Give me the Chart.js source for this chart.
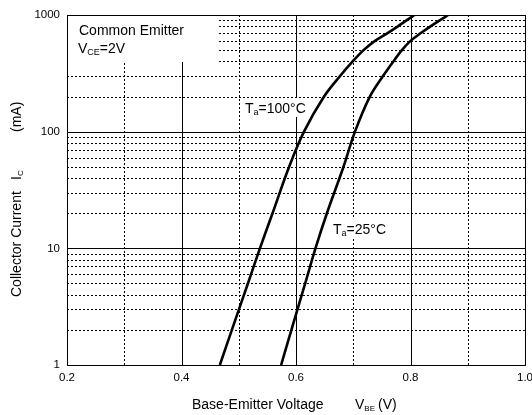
<!DOCTYPE html>
<html>
<head>
<meta charset="utf-8">
<script src="https://cdn.jsdelivr.net/npm/chart.js@4"></script>
<style>
  body { margin: 0; background: #fff; }
  #wrap { width: 532px; height: 415px; }
</style>
</head>
<body>
<div id="wrap"><canvas id="mycanvas" width="532" height="415"></canvas></div>
<script>
// collector current (mA), common to both curves
var icValues = [1, 2, 5, 10, 20, 50, 100, 200, 300, 400, 500, 600, 700, 800, 900, 1000];
// base-emitter voltage (V) for each temperature
var vbe100 = [0.467, 0.488, 0.516, 0.537, 0.559, 0.588, 0.614, 0.649, 0.677, 0.699, 0.718, 0.738, 0.760, 0.778, 0.793, 0.807];
var vbe25 = [0.574, 0.592, 0.616, 0.634, 0.654, 0.683, 0.703, 0.729, 0.752, 0.770, 0.785, 0.800, 0.818, 0.835, 0.851, 0.866];

var xMajor = [0.2, 0.4, 0.6, 0.8, 1.0];
var xMinor = [0.3, 0.5, 0.7, 0.9];
var yMajor = [1, 10, 100, 1000];
var yMinor = [2, 3, 4, 5, 6, 7, 8, 9, 20, 30, 40, 50, 60, 70, 80, 90, 200, 300, 400, 500, 600, 700, 800, 900];

var FONT = "Arial, 'Liberation Sans', sans-serif";

function toPoints(xs, ys) {
    var pts = [];
    for (var i = 0; i < xs.length; i++) {
        pts.push({ x: xs[i], y: ys[i] });
    }
    return pts;
}

// draws text with a subscript: parts = [[text, size, dy], ...]
function drawParts(ctx, x, y, parts) {
    for (var i = 0; i < parts.length; i++) {
        ctx.font = parts[i][1] + "px " + FONT;
        ctx.fillText(parts[i][0], x, y + parts[i][2]);
        x += ctx.measureText(parts[i][0]).width;
    }
}

var gridPlugin = {
    id: 'gridPlugin',
    beforeDatasetsDraw: function(chart) {
        var ctx = chart.ctx;
        var a = chart.chartArea;
        var xs = chart.scales.x, ys = chart.scales.y;
        ctx.save();
        ctx.strokeStyle = '#000';
        ctx.lineWidth = 1;
        // dotted minor lines
        ctx.setLineDash([2, 2]);
        ctx.beginPath();
        xMinor.forEach(function(v) {
            var p = Math.round(xs.getPixelForValue(v)) + 0.5;
            ctx.moveTo(p, a.top); ctx.lineTo(p, a.bottom);
        });
        yMinor.forEach(function(v) {
            var p = Math.round(ys.getPixelForValue(v)) + 0.5;
            ctx.moveTo(a.left, p); ctx.lineTo(a.right, p);
        });
        ctx.stroke();
        // solid major lines
        ctx.setLineDash([]);
        ctx.beginPath();
        xMajor.forEach(function(v) {
            var p = Math.round(xs.getPixelForValue(v)) + 0.5;
            ctx.moveTo(p, a.top); ctx.lineTo(p, a.bottom);
        });
        yMajor.forEach(function(v) {
            var p = Math.round(ys.getPixelForValue(v)) + 0.5;
            ctx.moveTo(a.left, p); ctx.lineTo(a.right, p);
        });
        ctx.stroke();
        // white boxes behind the notes
        ctx.fillStyle = '#fff';
        ctx.fillRect(a.left + 1, a.top + 1, 150, 46);
        ctx.fillRect(240, 98, 71, 19);
        ctx.fillRect(328, 219, 62, 20);
        // frame
        ctx.strokeRect(Math.round(a.left) + 0.5, Math.round(a.top) + 0.5,
            Math.round(a.right - a.left), Math.round(a.bottom - a.top));
        ctx.restore();
    },
    afterDraw: function(chart) {
        var ctx = chart.ctx;
        ctx.save();
        ctx.fillStyle = '#000';
        ctx.textAlign = 'left';
        ctx.textBaseline = 'alphabetic';
        // note box
        drawParts(ctx, 79, 35, [['Common Emitter', 14, 0]]);
        drawParts(ctx, 78, 53, [['V', 14, 0], ['CE', 9, 2], ['=2V', 14, 0]]);
        // curve labels
        drawParts(ctx, 245, 113, [['T', 14, 0], ['a', 9, 2], ['=100\u00b0C', 14, 0]]);
        drawParts(ctx, 333, 234, [['T', 14, 0], ['a', 9, 2], ['=25\u00b0C', 14, 0]]);
        // x axis title
        drawParts(ctx, 192, 409, [['Base-Emitter Voltage', 14, 0]]);
        drawParts(ctx, 355, 409, [['V', 14, 0], ['BE', 8, 2]]);
        drawParts(ctx, 378, 409, [['(V)', 14, 0]]);
        // y axis title
        ctx.translate(21, 0);
        ctx.rotate(-Math.PI / 2);
        drawParts(ctx, -297, 0, [['Collector Current', 14, 0]]);
        drawParts(ctx, -180, 0, [['I', 14, 0], ['C', 8, 2]]);
        drawParts(ctx, -132, 0, [['(mA)', 14, 0]]);
        ctx.restore();
    }
};

var ctx = document.getElementById('mycanvas');

var chart = new Chart(ctx, {
    type: 'scatter',
    data: {
        datasets: [{
            label: 'Ta=100C',
            data: toPoints(vbe100, icValues),
            showLine: true,
            borderColor: '#000',
            borderWidth: 2.6,
            pointRadius: 0,
            tension: 0.35
        }, {
            label: 'Ta=25C',
            data: toPoints(vbe25, icValues),
            showLine: true,
            borderColor: '#000',
            borderWidth: 2.6,
            pointRadius: 0,
            tension: 0.35
        }]
    },
    options: {
        responsive: false,
        animation: false,
        layout: { padding: { left: 0, top: 15, right: 7, bottom: 0 } },
        plugins: {
            legend: { display: false },
            tooltip: { enabled: false }
        },
        scales: {
            x: {
                type: 'linear',
                min: 0.2,
                max: 1.0,
                grid: { display: false, drawTicks: false },
                border: { display: false },
                ticks: {
                    stepSize: 0.2,
                    padding: 6,
                    color: '#000',
                    font: { family: FONT, size: 11.5 },
                    maxRotation: 0,
                    callback: function(v) { return v.toFixed(1); }
                },
                afterFit: function(scale) {
                    scale.height = 50;
                    // let "1.0" run off the right edge like the original
                    scale.paddingRight = 0;
                    scale.paddingLeft = 0;
                }
            },
            y: {
                type: 'logarithmic',
                min: 1,
                max: 1000,
                grid: { display: false, drawTicks: false },
                border: { display: false },
                ticks: {
                    padding: 7,
                    color: '#000',
                    font: { family: FONT, size: 11.5 },
                    autoSkip: false,
                    callback: function(v) {
                        return yMajor.indexOf(v) >= 0 ? String(v) : '';
                    }
                },
                afterFit: function(scale) {
                    scale.width = 67;
                    scale.paddingTop = 0;
                    scale.paddingBottom = 0;
                }
            }
        }
    },
    plugins: [gridPlugin]
});
</script>
</body>
</html>
